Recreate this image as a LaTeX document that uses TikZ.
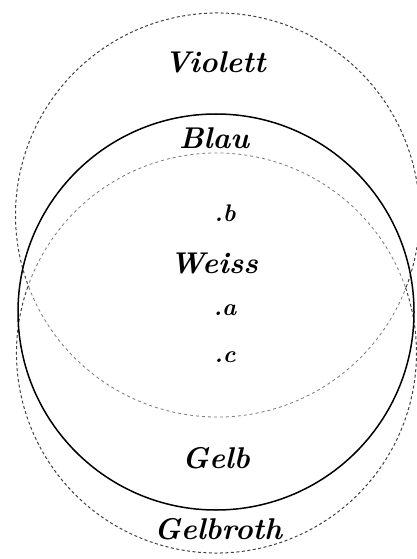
\documentclass[tikz,border=0pt]{standalone}
\usepackage{fontspec}
\begin{document}
\begin{tikzpicture}[x=1pt,y=1pt,
  outerdash/.style={draw=black!75, line width=1pt, dash pattern=on 3pt off 2.5pt},
  innerdash/.style={draw=black!50, line width=0.85pt, dash pattern=on 3pt off 3pt},
  solidring/.style={draw=black, line width=1.5pt},
  biglabel/.style={font=\fontsize{30}{30}\selectfont\bfseries\itshape, inner sep=0pt},
  smalllabel/.style={font=\fontsize{24}{24}\selectfont\bfseries\itshape, inner sep=0pt}]
\useasboundingbox (0,0) rectangle (417,-559);
% centres
\coordinate (cv) at (217.5,-215);
\coordinate (cb) at (216,-312);
\coordinate (cg) at (216.5,-353);
% Violett circle
\draw[outerdash] (cv) ++(-20.9:202) arc[start angle=-20.9, end angle=200.9, radius=202];
\draw[innerdash] (cv) ++(200.9:202) arc[start angle=200.9, end angle=339.1, radius=202];
% Gelbroth circle
\draw[outerdash] (cg) ++(160.7:200) arc[start angle=160.7, end angle=379.3, radius=200];
\draw[innerdash] (cg) ++(19.3:200) arc[start angle=19.3, end angle=160.7, radius=200];
% Blau / Gelb circle
\draw[solidring] (cb) circle[radius=198];
% labels
\node[biglabel] (violett) at (215,-62) {Violett};
\node[biglabel] (blau) at (214,-138) {Blau};
\node[smalllabel] (b) at (225,-213) {.b};
\node[biglabel] (weiss) at (214,-263) {Weiss};
\node[smalllabel] (a) at (225,-310) {.a};
\node[smalllabel] (c) at (225,-357) {.c};
\node[biglabel] (gelb) at (216,-458) {Gelb};
\node[biglabel] (gelbroth) at (218,-529) {Gelbroth};
\end{tikzpicture}
\end{document}
